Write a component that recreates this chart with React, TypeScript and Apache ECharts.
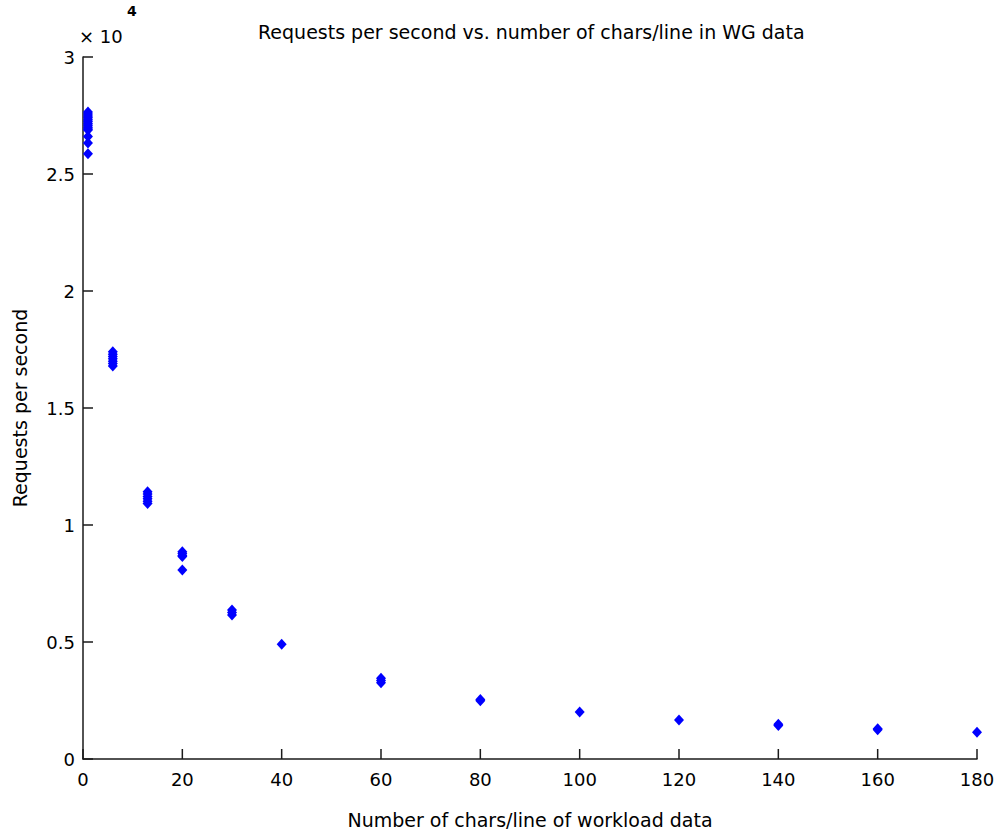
import React, { useEffect, useRef } from "react";
import * as echarts from "echarts";

const titleText = "Requests per second vs. number of chars/line in WG data";
const xAxisName = "Number of chars/line of workload data";
const yAxisName = "Requests per second";
const exponentBase = "× 10";
const exponentPower = "4";

const xTicks = [0, 20, 40, 60, 80, 100, 120, 140, 160, 180];
const yTickLabels = ["0", "0.5", "1", "1.5", "2", "2.5", "3"];

const x1 = [27650, 27560, 27480, 27400, 27320, 27240, 27160, 27080, 27000, 26920, 26880, 26600, 26320, 25870];
const x6 = [17400, 17300, 17200, 17100, 17000, 16900, 16800];
const x13 = [11420, 11320, 11220, 11120, 11020, 10920];
const x20 = [8860, 8780, 8700, 8650, 8080];
const x30 = [6370, 6260, 6150];
const x40 = [4900];
const x60 = [3450, 3350, 3260];
const x80 = [2540, 2490];
const x100 = [2010];
const x120 = [1670];
const x140 = [1480, 1430];
const x160 = [1290, 1250];
const x180 = [1140];

const groups: [number, number[]][] = [
  [1, x1],
  [6, x6],
  [13, x13],
  [20, x20],
  [30, x30],
  [40, x40],
  [60, x60],
  [80, x80],
  [100, x100],
  [120, x120],
  [140, x140],
  [160, x160],
  [180, x180],
];

export default function App() {
  const ref = useRef<HTMLDivElement>(null);
  useEffect(() => {
    if (!ref.current) return;
    const chart = echarts.init(ref.current, null, { renderer: "svg" });
    const data: number[][] = [];
    groups.forEach(([x, vals]) => vals.forEach((v) => data.push([x, v])));
    const font = "'DejaVu Sans', sans-serif";
    const axisColor = "#1a1a1a";
    const tickLen = 10;
    const xTickData = xTicks.map((v) => [v, 0]);
    const yTickData = yTickLabels.map((_, i) => [0, i * 5000]);
    chart.setOption({
      animation: false,
      backgroundColor: "#ffffff",
      title: {
        text: titleText,
        left: 253,
        top: 17,
        textStyle: { fontFamily: font, fontSize: 19, fontWeight: "normal", color: "#000" },
      },
      grid: {
        left: 83,
        top: 57,
        width: 894,
        height: 702,
        containLabel: false,
        outerBoundsMode: "none",
      },
      xAxis: {
        type: "value",
        min: 0,
        max: 180,
        interval: 20,
        name: xAxisName,
        nameLocation: "middle",
        nameGap: 51,
        nameTextStyle: { fontFamily: font, fontSize: 19, color: "#000" },
        axisLine: { show: true, onZero: false, lineStyle: { color: axisColor, width: 1.5 } },
        axisTick: { show: false },
        axisLabel: {
          margin: 11,
          fontFamily: font,
          fontSize: 18,
          color: "#000",
          formatter: (v: number) => (xTicks.includes(v) ? String(v) : ""),
        },
        splitLine: { show: false },
      },
      yAxis: {
        type: "value",
        min: 0,
        max: 30000,
        interval: 5000,
        name: yAxisName,
        nameLocation: "middle",
        nameGap: 54,
        nameTextStyle: { fontFamily: font, fontSize: 19, color: "#000" },
        axisLine: { show: true, onZero: false, lineStyle: { color: axisColor, width: 1.5 } },
        axisTick: { show: false },
        axisLabel: {
          margin: 8,
          fontFamily: font,
          fontSize: 18,
          color: "#000",
          formatter: (v: number) => yTickLabels[Math.round(v / 5000)] ?? "",
        },
        splitLine: { show: false },
      },
      graphic: [
        {
          type: "text",
          left: 79,
          top: 27,
          style: { text: exponentBase, fontFamily: font, fontSize: 18, fill: "#000" },
        },
        {
          type: "text",
          left: 127,
          top: 4,
          style: { text: exponentPower, fontFamily: font, fontSize: 14, fontWeight: "bold", fill: "#000" },
        },
      ],
      series: [
        {
          type: "custom",
          silent: true,
          data: xTickData,
          renderItem: (_p: any, api: any) => {
            const pt = api.coord([api.value(0), api.value(1)]);
            return {
              type: "line",
              shape: { x1: pt[0], y1: pt[1], x2: pt[0], y2: pt[1] - tickLen },
              style: { stroke: axisColor, lineWidth: 1.5 },
            };
          },
          z: 1,
        },
        {
          type: "custom",
          silent: true,
          data: yTickData,
          renderItem: (_p: any, api: any) => {
            const pt = api.coord([api.value(0), api.value(1)]);
            return {
              type: "line",
              shape: { x1: pt[0], y1: pt[1], x2: pt[0] + tickLen, y2: pt[1] },
              style: { stroke: axisColor, lineWidth: 1.5 },
            };
          },
          z: 1,
        },
        {
          type: "scatter",
          data,
          symbol: "diamond",
          symbolSize: [10, 11],
          itemStyle: { color: "#0000ff", opacity: 1 },
          z: 3,
        },
      ],
    });
    return () => chart.dispose();
  }, []);
  return (
    <div
      ref={ref}
      style={{ position: "fixed", left: 0, top: 0, width: 1001, height: 835, background: "#fff" }}
    />
  );
}
